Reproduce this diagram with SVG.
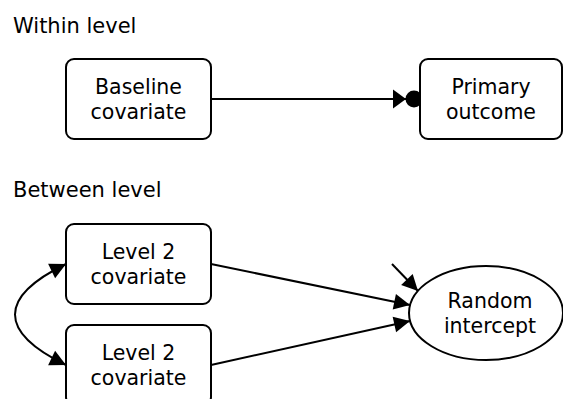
<svg xmlns="http://www.w3.org/2000/svg" width="563" height="399" viewBox="0 0 563 399">
<style>
text{font-family:"DejaVu Sans","Noto Sans",sans-serif;fill:#000}
.hdr{font-size:21px}
.lbl{font-size:20.5px;text-anchor:middle}
.box{fill:#fff;stroke:#000;stroke-width:2}
.edge{fill:none;stroke:#000;stroke-width:2}
</style>
<defs>
<marker id="arr" markerUnits="userSpaceOnUse" markerWidth="18" markerHeight="18" refX="16" refY="8" orient="auto-start-reverse" overflow="visible">
<path d="M0,0 L16,8 L0,16 z" fill="#000"/>
</marker>
<marker id="arrdot" markerUnits="userSpaceOnUse" markerWidth="32" markerHeight="20" refX="13" refY="9.5" orient="auto" overflow="visible">
<path d="M0,0 L13,9.5 L0,19 z" fill="#000"/>
<circle cx="21" cy="9.5" r="8.5" fill="#000"/>
</marker>
</defs>
<text class="hdr" x="13" y="33">Within level</text>
<text class="hdr" x="13" y="197">Between level</text>
<g id="connectors">
<line class="edge" x1="211" y1="99" x2="406" y2="99" marker-end="url(#arrdot)"/>
<line class="edge" x1="211" y1="264" x2="410" y2="305" marker-end="url(#arr)"/>
<line class="edge" x1="211" y1="365" x2="410" y2="321" marker-end="url(#arr)"/>
<line class="edge" x1="392" y1="264" x2="418" y2="291" marker-end="url(#arr)"/>
<path class="edge" d="M66,264 C-2,297 -2,332 66,365" marker-start="url(#arr)" marker-end="url(#arr)"/>
</g>
<g id="baseline">
<rect class="box" x="66" y="59" width="145" height="80" rx="8"/>
<text class="lbl" x="138.5" y="94">Baseline<tspan x="138.5" dy="25">covariate</tspan></text>
</g>
<g id="primary">
<rect class="box" x="420" y="59" width="142" height="80" rx="8"/>
<text class="lbl" x="491" y="94">Primary<tspan x="491" dy="25">outcome</tspan></text>
</g>
<g id="l2a">
<rect class="box" x="66" y="224" width="145" height="80" rx="8"/>
<text class="lbl" x="138.5" y="259">Level 2<tspan x="138.5" dy="25">covariate</tspan></text>
</g>
<g id="l2b">
<rect class="box" x="66" y="325" width="145" height="80" rx="8"/>
<text class="lbl" x="138.5" y="360">Level 2<tspan x="138.5" dy="25">covariate</tspan></text>
</g>
<g id="random">
<ellipse class="box" cx="486" cy="313" rx="77" ry="47"/>
<text class="lbl" x="490" y="308">Random<tspan x="490" dy="25">intercept</tspan></text>
</g>
</svg>
